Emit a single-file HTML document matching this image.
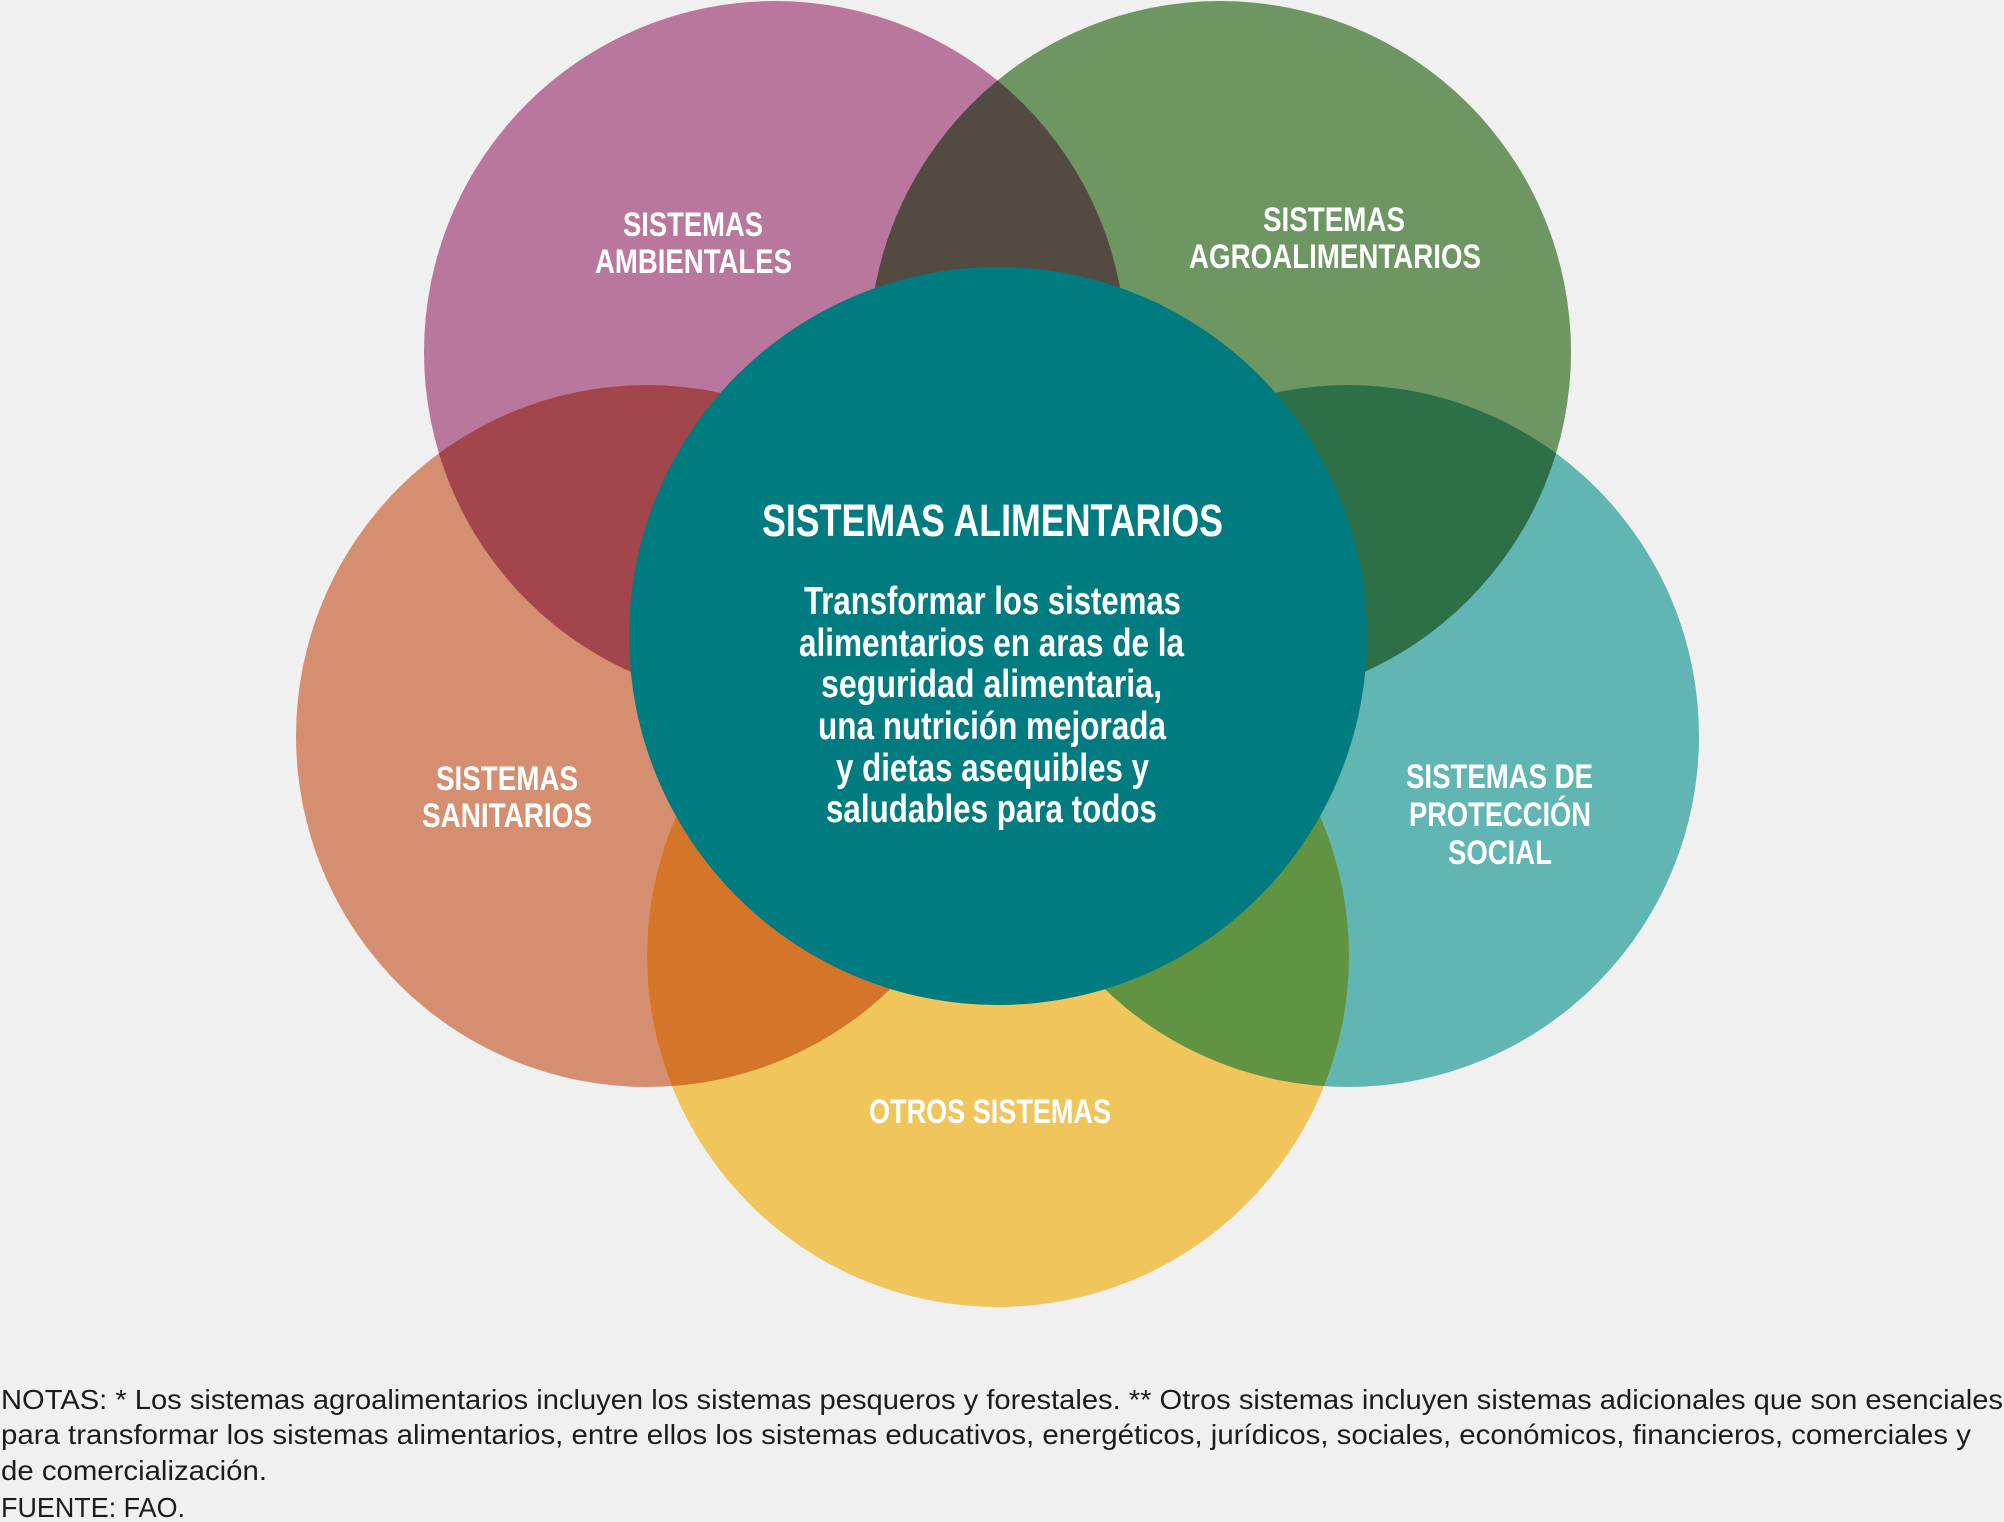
<!DOCTYPE html>
<html>
<head>
<meta charset="utf-8">
<style>
  html, body { margin:0; padding:0; background:#f0f0f0; }
  svg { display:block; }
  .lbl { font-family:"Liberation Sans Narrow","Liberation Sans",sans-serif; font-weight:bold; fill:#ffffff; }
  .note { font-family:"Liberation Sans",sans-serif; font-size:28px; fill:#1c1c1c; }
</style>
</head>
<body>
<svg width="2004" height="1522" viewBox="0 0 2004 1522" xmlns="http://www.w3.org/2000/svg">
  <defs>
    <clipPath id="cP"><circle cx="775" cy="352" r="351"/></clipPath>
    <clipPath id="cG"><circle cx="1220" cy="352" r="351"/></clipPath>
    <clipPath id="cO"><circle cx="647" cy="736" r="351"/></clipPath>
    <clipPath id="cT"><circle cx="1348" cy="736" r="351"/></clipPath>
  </defs>
  <rect x="0" y="0" width="2004" height="1522" fill="#f0f0f0"/>

  <!-- petals -->
  <circle cx="775" cy="352" r="351" fill="#b9779e"/>
  <circle cx="1220" cy="352" r="351" fill="#6d9662"/>
  <circle cx="647" cy="736" r="351" fill="#d58f70"/>
  <circle cx="1348" cy="736" r="351" fill="#61b5b2"/>
  <circle cx="998" cy="956" r="351" fill="#efc55c"/>

  <!-- overlaps -->
  <circle cx="1220" cy="352" r="351" fill="#534b41" clip-path="url(#cP)"/>
  <circle cx="647" cy="736" r="351" fill="#a3464c" clip-path="url(#cP)"/>
  <circle cx="1348" cy="736" r="351" fill="#2d7048" clip-path="url(#cG)"/>
  <circle cx="998" cy="956" r="351" fill="#d4752a" clip-path="url(#cO)"/>
  <circle cx="998" cy="956" r="351" fill="#609342" clip-path="url(#cT)"/>

  <!-- central circle -->
  <circle cx="998" cy="636" r="369" fill="#007c80"/>

  <!-- petal labels -->
  <text class="lbl" font-size="34" x="623" y="236" textLength="140" lengthAdjust="spacingAndGlyphs">SISTEMAS</text>
  <text class="lbl" font-size="34" x="595" y="273" textLength="197" lengthAdjust="spacingAndGlyphs">AMBIENTALES</text>

  <text class="lbl" font-size="34" x="1263" y="231" textLength="142" lengthAdjust="spacingAndGlyphs">SISTEMAS</text>
  <text class="lbl" font-size="34" x="1189" y="268" textLength="292" lengthAdjust="spacingAndGlyphs">AGROALIMENTARIOS</text>

  <text class="lbl" font-size="34" x="436" y="790" textLength="142" lengthAdjust="spacingAndGlyphs">SISTEMAS</text>
  <text class="lbl" font-size="34" x="422" y="827" textLength="170" lengthAdjust="spacingAndGlyphs">SANITARIOS</text>

  <text class="lbl" font-size="34" x="1406" y="788" textLength="187" lengthAdjust="spacingAndGlyphs">SISTEMAS DE</text>
  <text class="lbl" font-size="34" x="1409" y="826" textLength="182" lengthAdjust="spacingAndGlyphs">PROTECCIÓN</text>
  <text class="lbl" font-size="34" x="1448" y="864" textLength="104" lengthAdjust="spacingAndGlyphs">SOCIAL</text>

  <text class="lbl" font-size="34" x="869" y="1123" textLength="242" lengthAdjust="spacingAndGlyphs">OTROS SISTEMAS</text>

  <!-- central text -->
  <text class="lbl" font-size="45" x="762" y="536" textLength="461" lengthAdjust="spacingAndGlyphs">SISTEMAS ALIMENTARIOS</text>

  <text class="lbl" font-size="39" x="804" y="614" textLength="377" lengthAdjust="spacingAndGlyphs">Transformar los sistemas</text>
  <text class="lbl" font-size="39" x="799" y="656" textLength="385" lengthAdjust="spacingAndGlyphs">alimentarios en aras de la</text>
  <text class="lbl" font-size="39" x="821" y="697" textLength="341" lengthAdjust="spacingAndGlyphs">seguridad alimentaria,</text>
  <text class="lbl" font-size="39" x="818" y="739" textLength="348" lengthAdjust="spacingAndGlyphs">una nutrición mejorada</text>
  <text class="lbl" font-size="39" x="836" y="781" textLength="313" lengthAdjust="spacingAndGlyphs">y dietas asequibles y</text>
  <text class="lbl" font-size="39" x="826" y="822" textLength="331" lengthAdjust="spacingAndGlyphs">saludables para todos</text>

  <!-- notes -->
  <text class="note" x="1" y="1409" textLength="2002" lengthAdjust="spacingAndGlyphs">NOTAS: * Los sistemas agroalimentarios incluyen los sistemas pesqueros y forestales. ** Otros sistemas incluyen sistemas adicionales que son esenciales</text>
  <text class="note" x="1" y="1444" textLength="1970" lengthAdjust="spacingAndGlyphs">para transformar los sistemas alimentarios, entre ellos los sistemas educativos, energéticos, jurídicos, sociales, económicos, financieros, comerciales y</text>
  <text class="note" x="1" y="1480" textLength="266" lengthAdjust="spacingAndGlyphs">de comercialización.</text>
  <text class="note" x="1" y="1517" textLength="184" lengthAdjust="spacingAndGlyphs">FUENTE: FAO.</text>
</svg>
</body>
</html>
